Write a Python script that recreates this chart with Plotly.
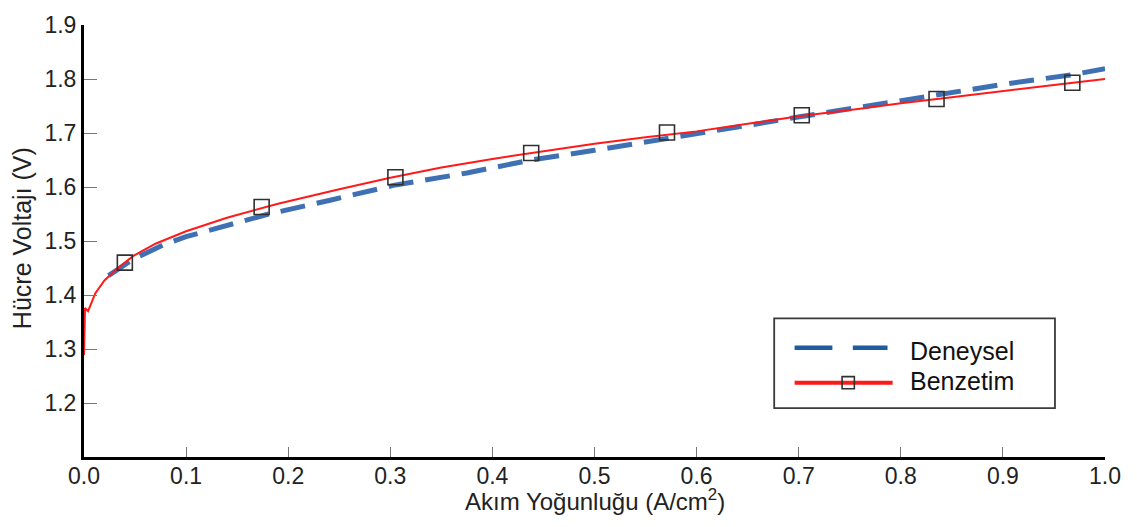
import plotly.graph_objects as go

# Simulation curve (Benzetim)
benzetim_x = [0.0, 0.0005, 0.001, 0.004, 0.011, 0.02, 0.032, 0.048, 0.07, 0.1,
              0.14, 0.19, 0.25, 0.3, 0.35, 0.4, 0.45, 0.5, 0.55, 0.6,
              0.65, 0.7, 0.76, 0.8, 0.85, 0.9, 0.95, 1.0]
benzetim_y = [1.289, 1.34, 1.376, 1.370, 1.403, 1.427, 1.448, 1.472, 1.495, 1.518,
              1.543, 1.569, 1.596, 1.617, 1.636, 1.652, 1.666, 1.680, 1.692, 1.703,
              1.717, 1.731, 1.745, 1.755, 1.766, 1.778, 1.789, 1.800]

# Marker positions along the simulation curve
marker_x = [0.04, 0.174, 0.305, 0.438, 0.571, 0.703, 0.835, 0.968]
marker_y = [1.460, 1.563, 1.618, 1.663, 1.701, 1.733, 1.763, 1.793]

# Experimental curve (Deneysel)
deneysel_x = [0.024, 0.048, 0.078, 0.1, 0.127, 0.153, 0.179, 0.24, 0.303, 0.375,
              0.438, 0.5, 0.571, 0.64, 0.701, 0.76, 0.835, 0.9, 0.968, 1.0]
deneysel_y = [1.436, 1.466, 1.493, 1.508, 1.522, 1.535, 1.549, 1.575, 1.603, 1.626,
              1.650, 1.668, 1.689, 1.711, 1.730, 1.748, 1.770, 1.790, 1.808, 1.819]

x_ticks = [0.0, 0.1, 0.2, 0.3, 0.4, 0.5, 0.6, 0.7, 0.8, 0.9, 1.0]
x_tick_labels = ["0.0", "0.1", "0.2", "0.3", "0.4", "0.5", "0.6", "0.7", "0.8", "0.9", "1.0"]
y_ticks = [1.2, 1.3, 1.4, 1.5, 1.6, 1.7, 1.8, 1.9]
y_tick_labels = ["1.2", "1.3", "1.4", "1.5", "1.6", "1.7", "1.8", "1.9"]

BLUE = "#3f70b4"
BLUE_LEG = "#1f5c9c"
RED = "#ff1a1a"
FONT = "Liberation Sans, Arial, sans-serif"

fig = go.Figure()

fig.add_trace(go.Scatter(
    x=deneysel_x, y=deneysel_y, mode="lines", name="Deneysel",
    line=dict(color=BLUE, width=5, dash="25px,12px"), showlegend=False))

fig.add_trace(go.Scatter(
    x=benzetim_x, y=benzetim_y, mode="lines", name="Benzetim",
    line=dict(color=RED, width=2), showlegend=False))

fig.add_trace(go.Scatter(
    x=marker_x, y=marker_y, mode="markers", name="Benzetim",
    marker=dict(symbol="square-open", size=15, color="#303030",
                line=dict(width=1.6, color="#303030")),
    showlegend=False))

# Boxed legend in the lower right
shapes = [
    dict(type="rect", xref="paper", yref="paper", x0=0.676, x1=0.951, y0=0.113, y1=0.321,
         line=dict(color="#3a3a3a", width=1.8), fillcolor="white", layer="above"),
    dict(type="line", xref="paper", yref="paper", x0=0.696, x1=0.733, y0=0.253, y1=0.253,
         line=dict(color=BLUE_LEG, width=4.5)),
    dict(type="line", xref="paper", yref="paper", x0=0.753, x1=0.787, y0=0.253, y1=0.253,
         line=dict(color=BLUE_LEG, width=4.5)),
    dict(type="line", xref="paper", yref="paper", x0=0.696, x1=0.792, y0=0.172, y1=0.172,
         line=dict(color=RED, width=4)),
    dict(type="rect", xref="paper", yref="paper", x0=0.7425, x1=0.7545, y0=0.158, y1=0.186,
         line=dict(color="#303030", width=1.6), fillcolor="rgba(0,0,0,0)"),
]

annotations = [
    dict(text="Deneysel", xref="paper", yref="paper", x=0.807, y=0.246,
         xanchor="left", yanchor="middle", showarrow=False,
         font=dict(family=FONT, size=25, color="#111")),
    dict(text="Benzetim", xref="paper", yref="paper", x=0.807, y=0.176,
         xanchor="left", yanchor="middle", showarrow=False,
         font=dict(family=FONT, size=25, color="#111")),
    dict(text="Akım Yoğunluğu (A/cm<sup>2</sup>)", xref="paper", yref="paper",
         x=0.5, y=-0.100, xanchor="center", yanchor="middle", showarrow=False,
         font=dict(family=FONT, size=24, color="#222")),
    dict(text="Hücre Voltajı (V)", xref="paper", yref="paper",
         x=-0.06, y=0.506, xanchor="center", yanchor="middle", showarrow=False,
         textangle=-90, font=dict(family=FONT, size=25, color="#222")),
]

fig.update_layout(
    width=1137, height=527,
    margin=dict(l=84, r=32, t=15, b=70),
    paper_bgcolor="white", plot_bgcolor="white",
    font=dict(family=FONT, size=22, color="#222"),
    shapes=shapes, annotations=annotations,
    showlegend=False,
)

fig.update_xaxes(
    range=[0, 1.0], tickvals=x_ticks, ticktext=x_tick_labels,
    showgrid=False, zeroline=False,
    showline=True, linecolor="black", linewidth=3,
    ticks="inside", ticklen=10, tickwidth=1, tickcolor="#777",
    ticklabelstandoff=-4,
    tickfont=dict(family=FONT, size=23, color="#222"),
)
fig.update_yaxes(
    range=[1.1, 1.9], tickvals=y_ticks, ticktext=y_tick_labels,
    showgrid=False, zeroline=False,
    showline=True, linecolor="black", linewidth=3,
    ticks="inside", ticklen=13, tickwidth=1, tickcolor="#777",
    tickfont=dict(family=FONT, size=23, color="#222"),
)

fig.write_html("out.html")
